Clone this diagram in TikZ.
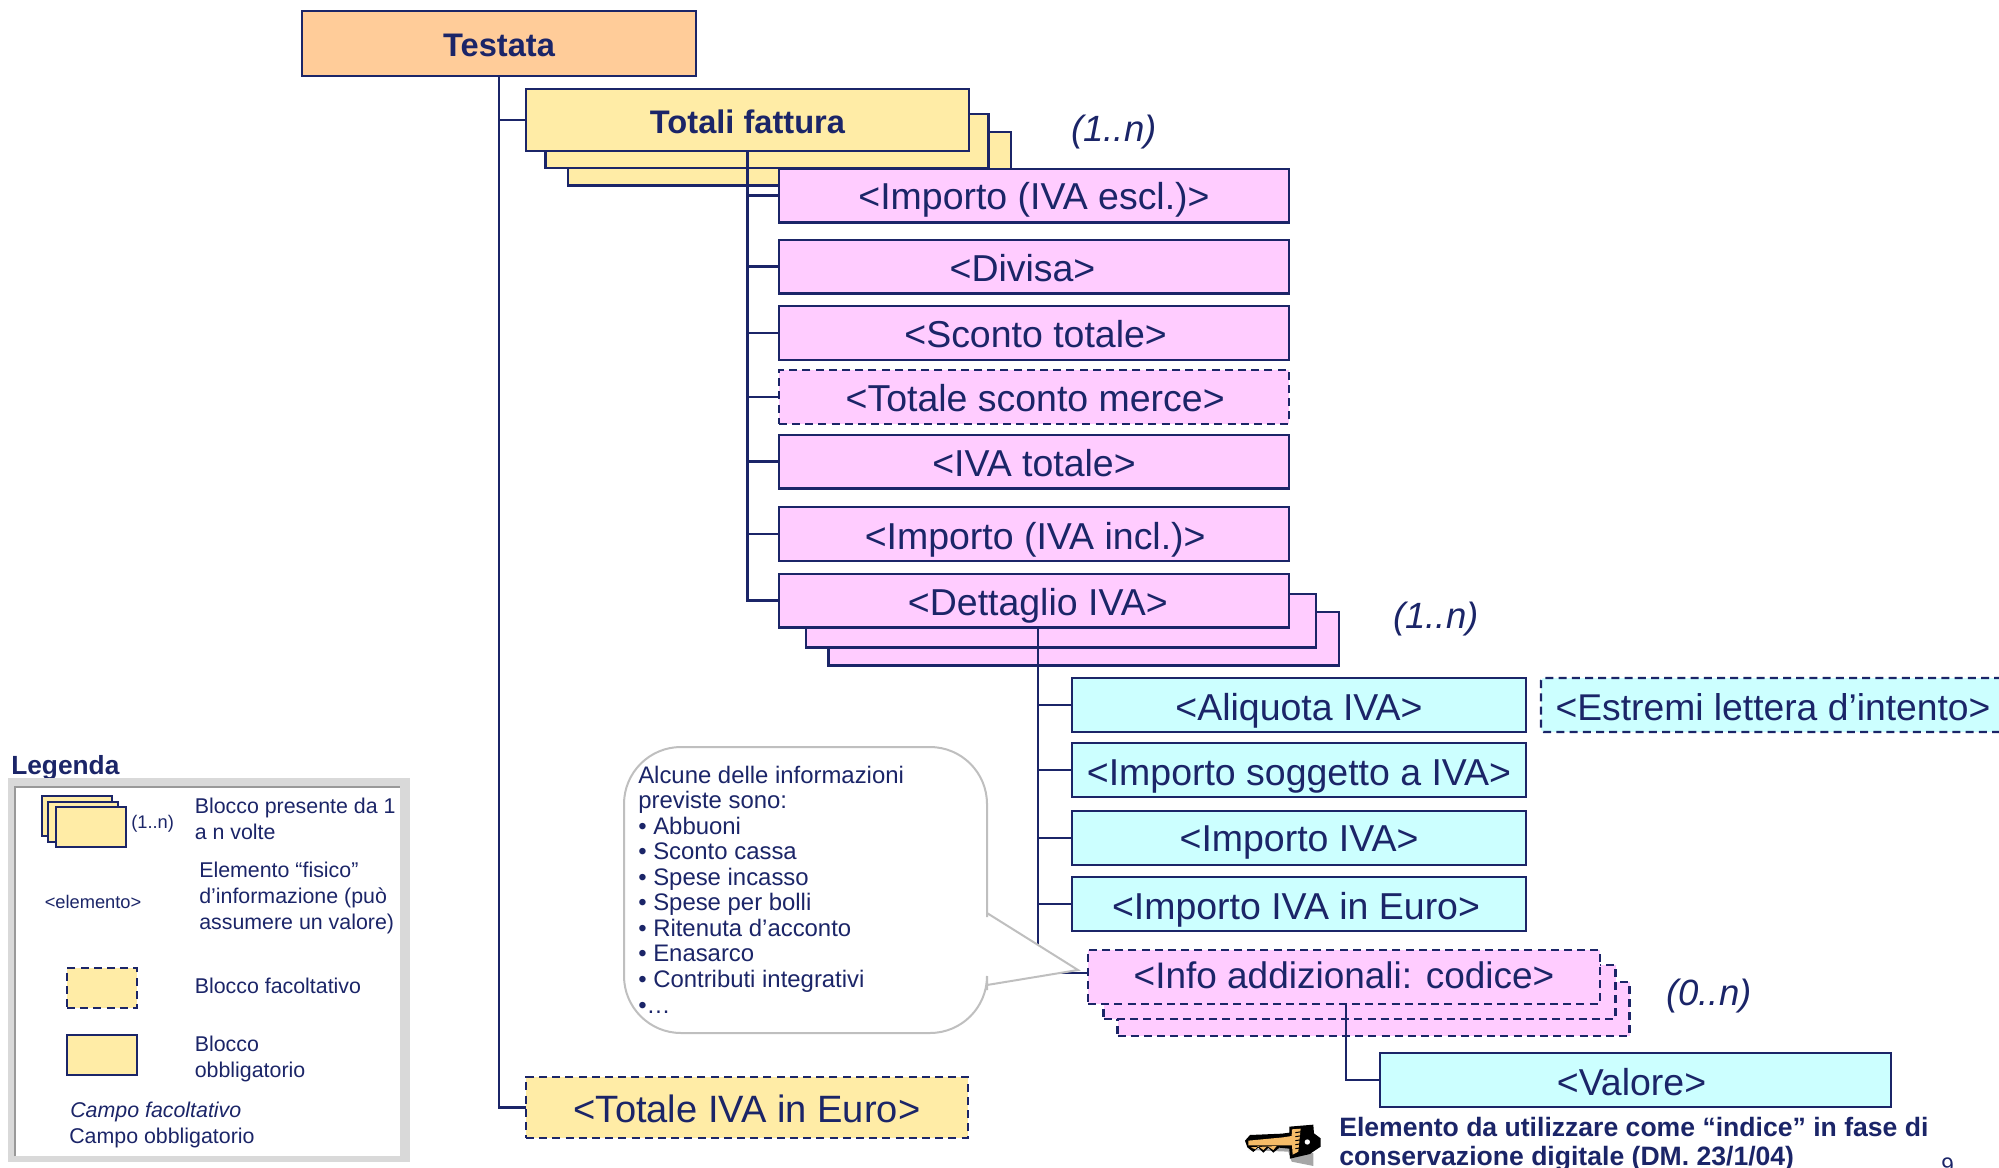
\documentclass[tikz,border=0pt]{standalone}
\usepackage{fontspec}
\setmainfont{Liberation Sans}
\definecolor{blu}{HTML}{1B2568}
\definecolor{arancio}{HTML}{FFCC99}
\definecolor{giallo}{HTML}{FFECA6}
\definecolor{rosa}{HTML}{FFCCFF}
\definecolor{ciano}{HTML}{CCFFFF}
\definecolor{grigio}{HTML}{D9D9D9}
\definecolor{ottone}{HTML}{F5BC68}
\begin{document}
\begin{tikzpicture}[x=.25mm,y=-.25mm]
		\tikzset{box/.style={draw=blu,line width=.6mm,inner sep=0pt,outer sep=0pt,text=blu,text depth=0pt,text height=21.7pt,font=\fontsize{26.65}{30}\selectfont},
			facolt/.style={dash pattern=on 2mm off 1.3mm},
			big/.style={box,font=\fontsize{23.2}{28}\selectfont\bfseries,text height=18.5pt},
			tot/.style={big,fill=giallo,minimum width=110.75mm,minimum height=13.4mm},
			pk/.style={box,fill=rosa,minimum width=127.6mm,minimum height=13.4mm},
			cy/.style={box,fill=ciano,minimum width=113.5mm,minimum height=13.5mm},
			inf/.style={pk,facolt,minimum width=128mm,minimum height=13.5mm},
			card/.style={inner sep=0pt,anchor=base west,text=blu,font=\fontsize{26}{30}\selectfont\itshape},
			lab/.style={inner sep=0pt,anchor=base west,text=blu,align=left,font=\fontsize{15.2}{18.3}\selectfont},
			leg/.style={draw=blu,line width=.5mm,fill=giallo,inner sep=0pt,minimum width=17.5mm,minimum height=10mm},
			com/.style={draw=blu,line width=.6mm}}
		\useasboundingbox (0,0) rectangle (1999,1167);

		% testata e totali
		\node[big,fill=arancio,minimum width=98.5mm,minimum height=16.25mm] (test) at (499,43.5) {Testata};
		\node[tot] (tot3) at (789.5,158.5) {};
		\node[tot] (tot2) [left of=tot3,xshift=4.375mm,yshift=4.375mm] {};
		\node[tot,minimum height=15.5mm] (tot) [left of=tot2,xshift=5.125mm,yshift=5.25mm] {Totali fattura};
		\node[card] (ntot) at (1071,141) {(1..n)};

		\node[pk,text height=20pt] (impesc) at (1034,195.5) {<Importo (IVA escl.)>};
		\node[pk] (div) [below of=impesc,yshift=-7.75mm] {<Divisa>\hspace*{5.75mm}};
		\node[pk,text height=20pt] (sconto) [below of=div,yshift=-6.625mm] {\hspace*{.8mm}<Sconto totale>};
		\node[pk,facolt,text height=20.5pt] (merce) [below of=sconto,yshift=-6mm] {\hspace*{.6mm}<Totale sconto merce>};
		\node[pk] (ivatot) [below of=merce,yshift=-6.125mm] {<IVA totale>};
		\node[pk] (impinc) [below of=ivatot,yshift=-8.125mm] {\hspace*{.6mm}<Importo (IVA incl.)>};
		\node[pk] (dett3) at (1083.5,638.5) {};
		\node[pk] (dett2) [left of=dett3,xshift=4.375mm,yshift=4.5mm] {};
		\node[pk] (dett) [left of=dett2,xshift=3.25mm,yshift=5mm] {\hspace*{1.9mm}<Dettaglio IVA>};
		\node[card] (ndett) at (1393,628) {(1..n)};

		\node[cy] (aliq) at (1299,705) {<Aliquota IVA>};
		\node[cy,text height=22.5pt] (imps) [below of=aliq,yshift=-6.25mm] {<Importo soggetto a IVA>};
		\node[cy,text height=19pt] (impiva) [below of=imps,yshift=-7mm] {<Importo IVA>};
		\node[cy] (impeur) [below of=impiva,yshift=-6.5mm] {<Importo IVA in Euro>\hspace*{1.5mm}};
		\node[box,facolt,fill=ciano,rounded corners=.7mm,font=\fontsize{26.5}{30}\selectfont,minimum width=116mm,minimum height=13.5mm] (estr) at (1773,705) {<Estremi lettera d’intento>};

		\node[inf] (info3) at (1373.5,1009) {};
		\node[inf] (info2) [left of=info3,xshift=6.5mm,yshift=4.25mm] {};
		\node[inf,font=\fontsize{26.3}{30}\selectfont,text height=17pt] (info) [left of=info2,xshift=6.125mm,yshift=3.75mm] {<Info addizionali: codice>};
		\node[card] (ninfo) at (1666,1005) {(0..n)};
		\node[cy,minimum width=127.75mm] (val) at (1635.5,1080) {<Valore>\hspace*{2mm}};
		\node[box,facolt,fill=giallo,font=\fontsize{27.1}{30}\selectfont,minimum width=110.5mm,minimum height=15.25mm] (totiva) at (747,1107.5) {<Totale IVA in Euro>};

		% collegamenti
		\draw[com] (test.south) |- (tot);
		\draw[com] (test.south) |- (totiva);
		\foreach \n in {impesc,div,sconto,merce,ivatot,impinc,dett}
			\draw[com] (tot.south) |- (\n);
		\foreach \n in {aliq,imps,impiva,impeur}
			\draw[com] ([xshift=1mm]dett.south) |- (\n);
		\draw[com] ([xshift=1mm]dett.south) |- ([yshift=1mm]info.west);
		\draw[com] ([xshift=.5mm]info.south) |- (val);

		% fumetto
		\draw[draw=black!25,line width=.5mm,fill=white] (987,985) -- (987,990) [rounded corners=14.25mm] -- (987,1033) -- (624,1033) -- (624,747) -- (987,747) -- (987,860) [sharp corners] -- (987,913) -- (1078,970) -- cycle;
		\node[lab,font=\fontsize{17}{18.15}\selectfont] (nota) at (638,1013) {Alcune delle informazioni\\previste sono:\\• Abbuoni\\• Sconto cassa\\• Spese incasso\\• Spese per bolli\\• Ritenuta d’acconto\\• Enasarco\\• Contributi integrativi\\•…};

		% chiave
		\begin{scope}[shift={(1230,1110)},x=.0833mm,y=-.0833mm]
			\fill[black!35] (55,120) -- (175,125) -- (185,155) -- (250,168) -- (250,130) -- (180,110) -- cycle;
			\fill[black] (45,92) -- (60,75) -- (155,71) -- (178,68) -- (178,50) -- (250,44) -- (252,70) -- (272,85) -- (272,110) -- (245,128) -- (240,132) -- (180,146) -- (178,116) -- (148,113) -- (130,128) -- (115,113) -- (100,128) -- (85,113) -- (70,126) -- (52,112) -- cycle;
			\fill[ottone] (55,92) -- (160,82) -- (185,78) -- (186,58) -- (212,56) -- (205,125) -- (188,134) -- (186,106) -- (55,106) -- cycle;
			\fill[ottone] (62,112) -- (76,118) -- (84,108) -- (100,120) -- (112,108) -- (130,120) -- (140,108) -- cycle;
			\foreach \i in {68,80,92,104,116}
				\draw[black,line width=.25mm] (196,\i) -- (222,\i-4);
			\fill[white] (232,96) circle (8);
		\end{scope}
		\node[inner sep=0pt,anchor=base west,text=blu,align=left,font=\fontsize{18.9}{20}\selectfont\bfseries] (chiave) at (1339,1165) {Elemento da utilizzare come “indice” in fase di\\conservazione digitale (DM. 23/1/04)};
		\node[inner sep=0pt,anchor=base west,text=blu,font=\fontsize{16}{18}\selectfont] (pag) at (1941,1173) {9};

		% legenda
		\node[inner sep=0pt,anchor=base west,text=blu,font=\fontsize{18.7}{22}\selectfont\bfseries] (legtit) at (11,774) {Legenda};
		\node[fill=grigio,minimum width=100.5mm,minimum height=96mm,inner sep=0pt] (legest) at (209,970) {};
		\node[fill=white,minimum width=96.25mm,minimum height=92.25mm,inner sep=0pt] (legint) at (207.5,971.5) {};
		\draw[black!40,line width=.4mm] (legint.south west) -- (legint.north west) -- (legint.north east);
		\node[leg] (l3) at (77,815.5) {};
		\node[leg] (l2) at (83,821.5) {};
		\node[leg] (l1) at (91,827) {};
		\node[lab,font=\fontsize{13}{16}\selectfont] (ln) at (131,828) {(1..n)};
		\node[lab] (lt1) at (194.5,839) {Blocco presente da 1\\a n volte};
		\node[lab,font=\fontsize{13}{16}\selectfont] (lel) at (44.5,908.5) {<elemento>};
		\node[lab] (lt2) at (199,929) {Elemento “fisico”\\d’informazione (può\\assumere un valore)};
		\node[leg,facolt] (lf) at (102,988) {};
		\node[lab] (lt3) at (194.5,993) {Blocco facoltativo};
		\node[leg] (lo) at (102,1054.5) {};
		\node[lab] (lt4) at (194.5,1077) {Blocco\\obbligatorio};
		\node[lab] (lt5) at (70,1117) {\itshape Campo facoltativo};
		\node[lab] (lt6) at (69,1143) {Campo obbligatorio};
\end{tikzpicture}
\end{document}
